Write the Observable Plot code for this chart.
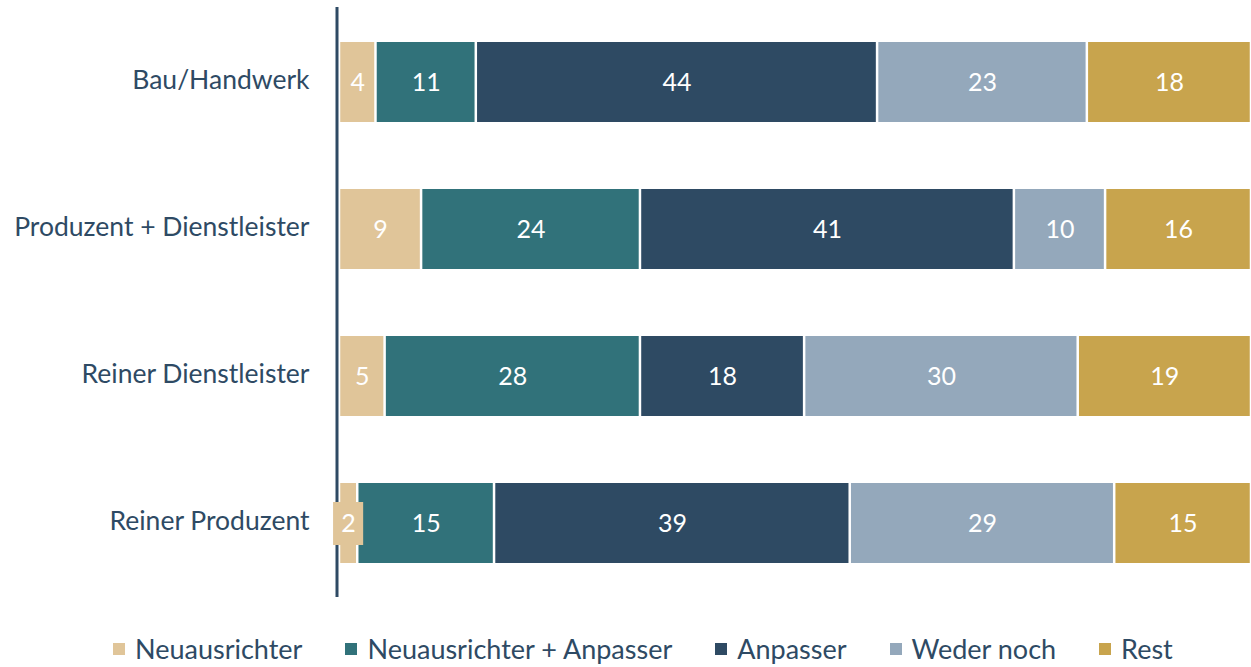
<!DOCTYPE html>
<html><head><meta charset="utf-8">
<script src="https://cdn.jsdelivr.net/npm/d3@7"></script>
<script src="https://cdn.jsdelivr.net/npm/@observablehq/plot@0.6"></script>
<style>
body{margin:0;background:#fff;font-family:Lato,"Open Sans",sans-serif;overflow:hidden;}
#legend{display:flex;justify-content:flex-start;height:58px;align-items:center;color:#2E4A64;font-size:27px;line-height:30px;padding-left:113px;}
#legend .it{display:flex;align-items:center;margin-right:43px;}
#legend .sw{width:12px;height:12px;display:inline-block;margin-right:10px;}
</style></head><body>
<div id="chart"></div>
<div id="legend"></div>
<script>
const categories = ["Bau/Handwerk","Produzent + Dienstleister","Reiner Dienstleister","Reiner Produzent"];
const series = ["Neuausrichter","Neuausrichter + Anpasser","Anpasser","Weder noch","Rest"];
const colors = ["#E0C599","#31727A","#2E4A63","#94A8BB","#C8A44D"];
const neuausrichter = [4,9,5,2];
const neuAnpasser = [11,24,28,15];
const anpasser = [44,41,18,39];
const wederNoch = [23,10,30,29];
const rest = [18,16,19,15];
const valuesBySeries = [neuausrichter, neuAnpasser, anpasser, wederNoch, rest];

const data = [];
categories.forEach((c, i) => {
  let start = 0;
  series.forEach((s, j) => {
    const v = valuesBySeries[j][i];
    data.push({category: c, series: s, value: v, x1: start, x2: start + v, mid: start + v / 2});
    start += v;
  });
});
const small = data.filter(d => d.value < 3);

const chart = Plot.plot({
  width: 1251,
  height: 620,
  marginLeft: 339,
  marginRight: 0,
  marginTop: 7,
  marginBottom: 23,
  style: {fontFamily: "Lato, 'Open Sans', sans-serif", color: "#2E4A64", background: "#fff"},
  x: {domain: [0, 100], axis: null},
  y: {domain: categories, paddingInner: 0.459, paddingOuter: 0.235, label: null, axis: null},
  color: {domain: series, range: colors},
  marks: [
    Plot.barX(data, {y: "category", x1: "x1", x2: "x2", fill: "series", insetLeft: 1.25, insetRight: 1.25}),
    Plot.ruleX([0], {stroke: "#2E4A64", strokeWidth: 3, dx: -2.5}),
    Plot.rect(small, {y: "category", x1: d => d.mid - 1.65, x2: d => d.mid + 1.65, fill: colors[0], insetTop: 19, insetBottom: 18}),
    Plot.text(data, {y: "category", x: "mid", text: d => String(d.value), fill: "white", fontSize: 25}),
    Plot.axisY({tickSize: 0, tickPadding: 30, fontSize: 26.5, fill: "#2E4A64", label: null, dy: -1.5})
  ]
});
document.getElementById("chart").appendChild(chart);

const legend = document.getElementById("legend");
series.forEach((s, j) => {
  const it = document.createElement("div");
  it.className = "it";
  it.innerHTML = `<span class="sw" style="background:${colors[j]}"></span><span>${s}</span>`;
  legend.appendChild(it);
});
</script>
</body></html>
